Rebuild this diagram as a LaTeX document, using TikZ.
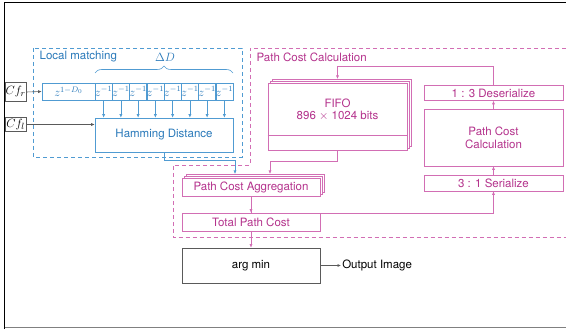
\documentclass[tikz,border=0pt]{standalone}
\usepackage{amsmath,amssymb}
\usepackage{fontspec}
\setsansfont{TeX Gyre Heros}
\usepackage{tikz}
\usetikzlibrary{arrows.meta}
\usetikzlibrary{shadows}
\usetikzlibrary{decorations.pathreplacing}
\definecolor{lmblue}{RGB}{40,120,185}
\definecolor{lmline}{RGB}{80,155,210}
\definecolor{pcpink}{RGB}{180,50,140}
\definecolor{pcline}{RGB}{210,110,180}
\definecolor{frgray}{RGB}{90,90,90}

\begin{document}
\begin{tikzpicture}[x=1pt,y=-1pt,line width=0.6pt,
    font=\sffamily\fontsize{11.5}{13}\selectfont,
    tip/.style={-{Latex[length=3.5pt,width=3pt]}},
    bbox/.style={draw=lmline,text=lmblue,inner sep=0pt,minimum width=#1},
    cell/.style={bbox=17.25pt,minimum height=17pt,font=\fontsize{11.5}{12}\selectfont},
    pbox/.style={draw=pcline,text=pcpink,fill=white,inner sep=0pt,minimum width=#1},
    stack/.style={general shadow={shadow xshift=4pt,shadow yshift=4pt,draw=pcline,fill=white},
                  general shadow={shadow xshift=2pt,shadow yshift=2pt,draw=pcline,fill=white}},
    cfbox/.style={draw=frgray,inner sep=0pt,minimum width=21pt,font=\fontsize{13}{14}\selectfont}]
  \useasboundingbox (0,0) rectangle (566,329);
  \draw[line width=1pt] (4.5,329) -- (4.5,2.5) -- (566,2.5);
  \draw[gray,line width=0.8pt] (4.5,327.5) -- (566,327.5);

  % local matching
  \draw[lmline,dash pattern=on 4pt off 3pt] (33,48) rectangle (242,157);
  \node[text=lmblue,anchor=west] (lmlabel) at (36,57) {Local matching};
  \node[text=lmblue,font=\fontsize{13}{14}\selectfont] (dd) at (165,57) {$\Delta D$};
  \draw[lmline,decorate,decoration={brace,amplitude=7pt}] (95,73) -- (233,73);
  \node[bbox=53pt,minimum height=17pt,font=\fontsize{11.5}{12}\selectfont] (r0) at (68.5,91.5) {$z^{1-D_0}$};
  \node[bbox=138pt,minimum height=34pt] (ham) at (164,135) {Hamming Distance};
  \foreach \i in {1,...,8}{
    \node[cell] (r\i) at ({95+17.25*(\i-0.5)},91.5) {$z^{-1}$};
    \draw[lmline,tip] (r\i.south) -- (r\i.south |- ham.north);
  }
  \node[cfbox,minimum height=19pt] (cfr) at (15.5,92) {$Cf_r$};
  \node[cfbox,minimum height=14pt] (cfl) at (15.5,124.5) {$Cf_l$};
  \draw[frgray,tip] (cfr.east) -- (r0.west);
  \draw[frgray,tip] (cfl.east) -- (cfl.east -| ham.west);

  % path cost calculation
  \draw[pcline,dash pattern=on 4pt off 3pt] (566,48) -- (250,48) -- (250,165) -- (173,165) -- (173,237.5) -- (566,237.5);
  \node[text=pcpink,anchor=west] (pclabel) at (253,57) {Path Cost Calculation};
  \node[pbox=139pt,minimum height=67pt,stack] (fifo) at (337.5,116.5) {};
  \draw[pcline] ([yshift=15pt]fifo.south west) -- ([yshift=15pt]fifo.south east);
  \node[text=pcpink,align=center] (fifotxt) at (337.5,109.5) {FIFO\\[-1pt]896 $\times$ 1024 bits};
  \node[pbox=139pt,minimum height=15pt] (deser) at (493.5,93) {1 : 3 Deserialize};
  \node[pbox=139pt,minimum height=57pt,align=center] (pcc) at (493.5,137.5) {Path Cost\\Calculation};
  \node[pbox=139pt,minimum height=16pt] (ser) at (493.5,183) {3 : 1 Serialize};
  \node[pbox=138pt,minimum height=18pt,stack] (pca) at (251,187) {Path Cost Aggregation};
  \node[pbox=138pt,minimum height=18pt] (tpc) at (251,222) {Total Path Cost};
  \node[draw=frgray,inner sep=0pt,minimum width=138pt,minimum height=35pt] (argmin) at (251,265.5) {arg min};
  \node[anchor=west,inner sep=1pt] (out) at (341,265.5) {Output Image};
  \coordinate (hin) at (235,174);
  \coordinate (fin) at (270,174);
  \coordinate (fifotop) at (337.5,79);

  \draw[lmline,tip] (ham.south) -- ++(0,8.5) -| (hin);
  \draw[pcline,tip] (fifo.south) -- ++(0,11) -| (fin);
  \draw[pcline,tip] (ser.north) -- (pcc.south);
  \draw[pcline,tip] (pcc.north) -- (deser.south);
  \draw[pcline,tip] (deser.north) -- ++(0,-19) -| (fifotop);
  \draw[pcline,tip] (pca.south) -- (tpc.north);
  \draw[pcline,tip] (pca.south) -- ++(0,16.5) -| (ser.south);
  \draw[pcline,tip] (tpc.south) -- (argmin.north);
  \draw[frgray,tip] (argmin.east) -- (out.west);
\end{tikzpicture}
\end{document}
